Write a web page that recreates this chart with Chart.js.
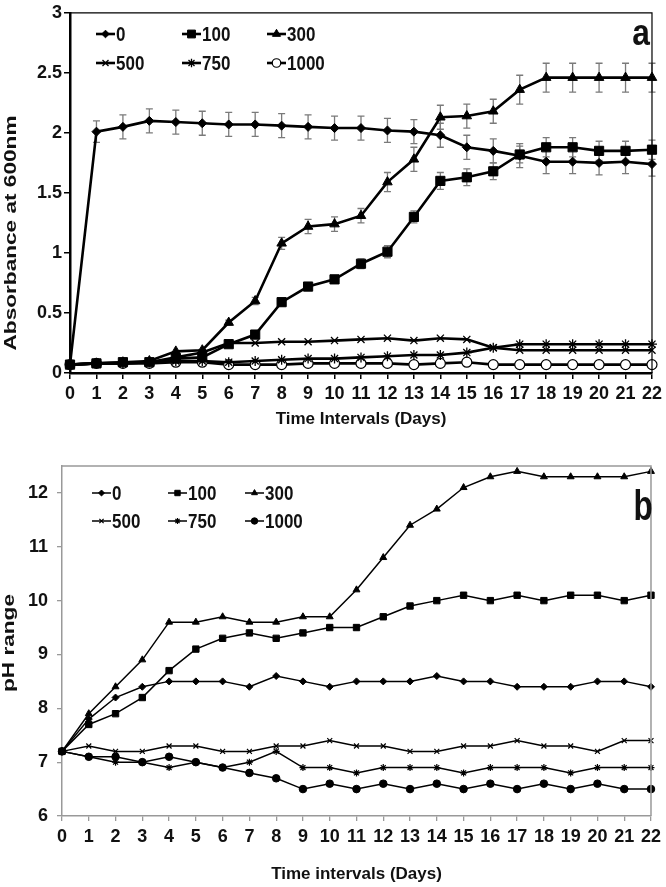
<!DOCTYPE html>
<html lang="en">
<head>
  <meta charset="UTF-8">
  <title>Absorbance and pH</title>
  <script src="https://cdn.jsdelivr.net/npm/chart.js"></script>
  <style>
    body { margin: 0; background: #fff; }
    .panel { position: absolute; left: 0; width: 666px; }
    #panelA { top: 0; height: 440px; }
    #panelB { top: 440px; height: 447px; }
  </style>
</head>
<body>

<div id="panelA" class="panel"><canvas id="chartA"></canvas></div>
<div id="panelB" class="panel"><canvas id="chartB"></canvas></div>

<script>
    // days on the x axis
    const days = ['0','1','2','3','4','5','6','7','8','9','10','11','12','13','14','15','16','17','18','19','20','21','22'];
    const seriesNames = ['0', '100', '300', '500', '750', '1000'];

    // (a) absorbance at 600nm
    const abs0    = [0.07, 2.01, 2.05, 2.10, 2.09, 2.08, 2.07, 2.07, 2.06, 2.05, 2.04, 2.04, 2.02, 2.01, 1.98, 1.88, 1.85, 1.81, 1.76, 1.76, 1.75, 1.76, 1.74];
    const abs100  = [0.07, 0.08, 0.09, 0.09, 0.12, 0.13, 0.24, 0.32, 0.59, 0.72, 0.78, 0.91, 1.01, 1.30, 1.60, 1.63, 1.68, 1.82, 1.88, 1.88, 1.85, 1.85, 1.86];
    const abs300  = [0.07, 0.08, 0.09, 0.10, 0.18, 0.19, 0.42, 0.60, 1.08, 1.22, 1.24, 1.31, 1.59, 1.78, 2.13, 2.14, 2.18, 2.36, 2.46, 2.46, 2.46, 2.46, 2.46];
    const abs500  = [0.07, 0.08, 0.08, 0.09, 0.13, 0.17, 0.25, 0.25, 0.26, 0.26, 0.27, 0.28, 0.29, 0.27, 0.29, 0.28, 0.21, 0.19, 0.19, 0.19, 0.19, 0.19, 0.19];
    const abs750  = [0.07, 0.08, 0.08, 0.09, 0.10, 0.10, 0.09, 0.10, 0.11, 0.12, 0.12, 0.13, 0.14, 0.15, 0.15, 0.17, 0.21, 0.24, 0.24, 0.24, 0.24, 0.24, 0.24];
    const abs1000 = [0.07, 0.08, 0.08, 0.08, 0.09, 0.09, 0.07, 0.07, 0.07, 0.08, 0.08, 0.08, 0.08, 0.07, 0.08, 0.09, 0.07, 0.07, 0.07, 0.07, 0.07, 0.07, 0.07];

    // error bars (+/-) for panel a
    const absErr0   = [0, 0.09, 0.1, 0.1, 0.1, 0.1, 0.1, 0.1, 0.1, 0.1, 0.1, 0.1, 0.1, 0.1, 0.1, 0.1, 0.1, 0.1, 0.1, 0.1, 0.1, 0.1, 0.1];
    const absErr100 = [0, 0, 0, 0, 0, 0, 0.02, 0.02, 0.03, 0.03, 0.03, 0.04, 0.05, 0.05, 0.07, 0.07, 0.07, 0.07, 0.08, 0.08, 0.08, 0.08, 0.08];
    const absErr300 = [0, 0, 0, 0, 0, 0, 0.02, 0.03, 0.05, 0.06, 0.06, 0.06, 0.08, 0.1, 0.1, 0.1, 0.1, 0.12, 0.12, 0.12, 0.12, 0.12, 0.12];

    // (b) pH
    const ph0    = [7.2, 7.8, 8.2, 8.4, 8.5, 8.5, 8.5, 8.4, 8.6, 8.5, 8.4, 8.5, 8.5, 8.5, 8.6, 8.5, 8.5, 8.4, 8.4, 8.4, 8.5, 8.5, 8.4];
    const ph100  = [7.2, 7.7, 7.9, 8.2, 8.7, 9.1, 9.3, 9.4, 9.3, 9.4, 9.5, 9.5, 9.7, 9.9, 10.0, 10.1, 10.0, 10.1, 10.0, 10.1, 10.1, 10.0, 10.1];
    const ph300  = [7.2, 7.9, 8.4, 8.9, 9.6, 9.6, 9.7, 9.6, 9.6, 9.7, 9.7, 10.2, 10.8, 11.4, 11.7, 12.1, 12.3, 12.4, 12.3, 12.3, 12.3, 12.3, 12.4];
    const ph500  = [7.2, 7.3, 7.2, 7.2, 7.3, 7.3, 7.2, 7.2, 7.3, 7.3, 7.4, 7.3, 7.3, 7.2, 7.2, 7.3, 7.3, 7.4, 7.3, 7.3, 7.2, 7.4, 7.4];
    const ph750  = [7.2, 7.1, 7.0, 7.0, 6.9, 7.0, 6.9, 7.0, 7.2, 6.9, 6.9, 6.8, 6.9, 6.9, 6.9, 6.8, 6.9, 6.9, 6.9, 6.8, 6.9, 6.9, 6.9];
    const ph1000 = [7.2, 7.1, 7.1, 7.0, 7.1, 7.0, 6.9, 6.8, 6.7, 6.5, 6.6, 6.5, 6.6, 6.5, 6.6, 6.5, 6.6, 6.5, 6.6, 6.5, 6.6, 6.5, 6.5];

    const FONT = "'Liberation Sans', Arial, sans-serif";
    Chart.defaults.font.family = FONT;
    Chart.defaults.color = '#111';

    // gray error bars behind the lines
    const errorBars = {
        id: 'errorBars',
        beforeDatasetsDraw(chart, args, opts) {
            if (!opts.errors) return;
            const ctx = chart.ctx;
            const y = chart.scales.y;
            ctx.save();
            ctx.strokeStyle = '#7a7a7a';
            ctx.lineWidth = 1.3;
            chart.data.datasets.forEach((ds, i) => {
                const err = opts.errors[i];
                if (!err) return;
                chart.getDatasetMeta(i).data.forEach((pt, j) => {
                    if (!err[j]) return;
                    const top = y.getPixelForValue(ds.data[j] + err[j]);
                    const bot = y.getPixelForValue(ds.data[j] - err[j]);
                    ctx.beginPath();
                    ctx.moveTo(pt.x, top); ctx.lineTo(pt.x, bot);
                    ctx.moveTo(pt.x - 3.5, top); ctx.lineTo(pt.x + 3.5, top);
                    ctx.moveTo(pt.x - 3.5, bot); ctx.lineTo(pt.x + 3.5, bot);
                    ctx.stroke();
                });
            });
            ctx.restore();
        }
    };

    // draws narrow (horizontally squeezed) text like the original figure
    function squeezedText(ctx, text, x, y, sx, sy, angle) {
        ctx.save();
        ctx.translate(x, y);
        if (angle) ctx.rotate(angle);
        ctx.scale(sx, sy);
        ctx.fillText(text, 0, 0);
        ctx.restore();
    }

    // frame, in-plot legend, panel letter and y title
    const decorations = {
        id: 'decorations',
        afterDraw(chart, args, opts) {
            const ctx = chart.ctx;
            const a = chart.chartArea;
            ctx.save();
            // top and right frame
            ctx.strokeStyle = opts.frameColor;
            ctx.lineWidth = opts.frameWidth;
            ctx.beginPath();
            ctx.moveTo(a.left, a.top); ctx.lineTo(a.right, a.top); ctx.lineTo(a.right, a.bottom);
            ctx.stroke();

            // legend, 2 rows x 3 columns
            chart.data.datasets.forEach((ds, i) => {
                const x = opts.legendCols[i % 3];
                const yy = opts.legendRows[Math.floor(i / 3)];
                ctx.strokeStyle = '#000';
                ctx.lineWidth = ds.borderWidth;
                ctx.beginPath();
                ctx.moveTo(x, yy); ctx.lineTo(x + opts.legendLine, yy);
                ctx.stroke();
                ctx.fillStyle = ds.pointBackgroundColor;
                ctx.strokeStyle = '#000';
                ctx.lineWidth = ds.pointBorderWidth;
                Chart.helpers.drawPoint(ctx, {
                    pointStyle: ds.pointStyle, rotation: 0,
                    radius: ds.pointRadius * 0.85, borderWidth: ds.pointBorderWidth
                }, x + opts.legendLine / 2, yy);
                ctx.fillStyle = '#111';
                ctx.font = 'bold ' + opts.legendSize + 'px ' + FONT;
                ctx.textBaseline = 'middle';
                ctx.textAlign = 'left';
                squeezedText(ctx, ds.label, x + opts.legendLine + 1, yy + 1, 0.85, 1, 0);
            });

            // panel letter
            ctx.font = 'bold ' + opts.letterSize + 'px ' + FONT;
            ctx.fillStyle = '#111';
            ctx.textAlign = 'center';
            ctx.textBaseline = 'alphabetic';
            squeezedText(ctx, opts.letter, opts.letterX, opts.letterY, opts.letterScale, 1, 0);

            // rotated y title, stretched along its baseline
            ctx.font = 'bold 17px ' + FONT;
            ctx.textBaseline = 'middle';
            squeezedText(ctx, opts.yTitle, opts.yTitleX, opts.yTitleY, opts.yTitleStretch, 0.95, -Math.PI / 2);
            ctx.restore();
        }
    };

    function makeDataset(label, data, style, radius, width, fill, bw) {
        return {
            label: label,
            data: data,
            borderColor: '#000',
            borderWidth: width,
            pointStyle: style,
            pointRadius: radius,
            pointHoverRadius: radius,
            pointBackgroundColor: fill,
            pointBorderColor: '#000',
            pointBorderWidth: bw,
            tension: 0,
            fill: false
        };
    }

    // ---- panel a ----
    new Chart(document.getElementById('chartA'), {
        type: 'line',
        data: {
            labels: days,
            datasets: [
                makeDataset(seriesNames[0], abs0, 'rectRot', 4.5, 2.6, '#000', 1),
                makeDataset(seriesNames[1], abs100, 'rect', 6.5, 2.6, '#000', 1),
                makeDataset(seriesNames[2], abs300, 'triangle', 5.5, 2.6, '#000', 1),
                makeDataset(seriesNames[3], abs500, 'crossRot', 5, 2.6, '#000', 1.3),
                makeDataset(seriesNames[4], abs750, 'star', 5, 2.6, '#000', 1.3),
                makeDataset(seriesNames[5], abs1000, 'circle', 5, 2.6, '#fff', 1.2)
            ]
        },
        options: {
            responsive: true,
            maintainAspectRatio: false,
            animation: false,
            layout: { padding: { left: 0, top: 8, right: 11, bottom: 0 } },
            scales: {
                x: {
                    offset: false,
                    grid: { drawOnChartArea: false, drawTicks: true, tickLength: 6, color: '#000', lineWidth: 1.5 },
                    border: { color: '#000', width: 2.5 },
                    ticks: { autoSkip: false, maxRotation: 0, padding: 4, color: '#111', font: { size: 18, weight: 'bold' } },
                    title: { display: true, text: 'Time Intervals (Days)', color: '#111', font: { size: 17, weight: 'bold' }, padding: { top: 0, bottom: 10 } },
                    afterFit(s) { s.height = 67; }
                },
                y: {
                    min: 0, max: 3,
                    grid: { drawOnChartArea: false, drawTicks: true, tickLength: 6, color: '#000', lineWidth: 1.5 },
                    border: { color: '#000', width: 2.5 },
                    ticks: { stepSize: 0.5, padding: 2, color: '#111', font: { size: 18, weight: 'bold' }, callback: v => String(v) },
                    afterFit(s) { s.width = 70; }
                }
            },
            plugins: {
                legend: { display: false },
                tooltip: { enabled: false },
                errorBars: { errors: [absErr0, absErr100, absErr300, null, null, null] },
                decorations: {
                    frameColor: '#000', frameWidth: 1.2,
                    legendSize: 20, legendCols: [96, 182, 267], legendRows: [34, 63], legendLine: 19,
                    letter: 'a', letterX: 641, letterY: 45, letterSize: 36, letterScale: 0.88,
                    yTitle: 'Absorbance at 600nm', yTitleX: 12, yTitleY: 233, yTitleStretch: 1.33
                }
            }
        },
        plugins: [errorBars, decorations]
    });

    // ---- panel b ----
    new Chart(document.getElementById('chartB'), {
        type: 'line',
        data: {
            labels: days,
            datasets: [
                makeDataset(seriesNames[0], ph0, 'rectRot', 3.5, 1.5, '#000', 1),
                makeDataset(seriesNames[1], ph100, 'rect', 4.5, 1.5, '#000', 1),
                makeDataset(seriesNames[2], ph300, 'triangle', 4, 1.5, '#000', 1),
                makeDataset(seriesNames[3], ph500, 'crossRot', 3.5, 1.5, '#000', 1.2),
                makeDataset(seriesNames[4], ph750, 'star', 3.5, 1.5, '#000', 1.2),
                makeDataset(seriesNames[5], ph1000, 'circle', 3.8, 1.5, '#000', 1)
            ]
        },
        options: {
            responsive: true,
            maintainAspectRatio: false,
            animation: false,
            layout: { padding: { left: 0, top: 26, right: 10, bottom: 0 } },
            scales: {
                x: {
                    offset: false,
                    grid: { drawOnChartArea: false, drawTicks: true, tickLength: 5, color: '#999', lineWidth: 1.3 },
                    border: { color: '#999', width: 1.5 },
                    ticks: { autoSkip: false, maxRotation: 0, padding: 5, color: '#111', font: { size: 18, weight: 'bold' } },
                    title: { display: true, text: 'Time intervals (Days)', color: '#111', font: { size: 17, weight: 'bold' }, padding: { top: 0, bottom: 2 } },
                    afterFit(s) { s.height = 71; }
                },
                y: {
                    min: 6, max: 12.5,
                    grid: { drawOnChartArea: false, drawTicks: true, tickLength: 5, color: '#999', lineWidth: 1.3 },
                    border: { color: '#999', width: 1.5 },
                    ticks: { stepSize: 1, padding: 9, color: '#111', font: { size: 18, weight: 'bold' } },
                    afterBuildTicks(s) { s.ticks = s.ticks.filter(t => Number.isInteger(t.value)); },
                    afterFit(s) { s.width = 62; }
                }
            },
            plugins: {
                legend: { display: false },
                tooltip: { enabled: false },
                decorations: {
                    frameColor: '#999', frameWidth: 1.5,
                    legendSize: 20, legendCols: [92, 168, 245], legendRows: [53, 81], legendLine: 19,
                    letter: 'b', letterX: 643, letterY: 80, letterSize: 42, letterScale: 0.75,
                    yTitle: 'pH range', yTitleX: 10, yTitleY: 203, yTitleStretch: 1.33
                }
            }
        },
        plugins: [decorations]
    });
</script>

</body>
</html>
